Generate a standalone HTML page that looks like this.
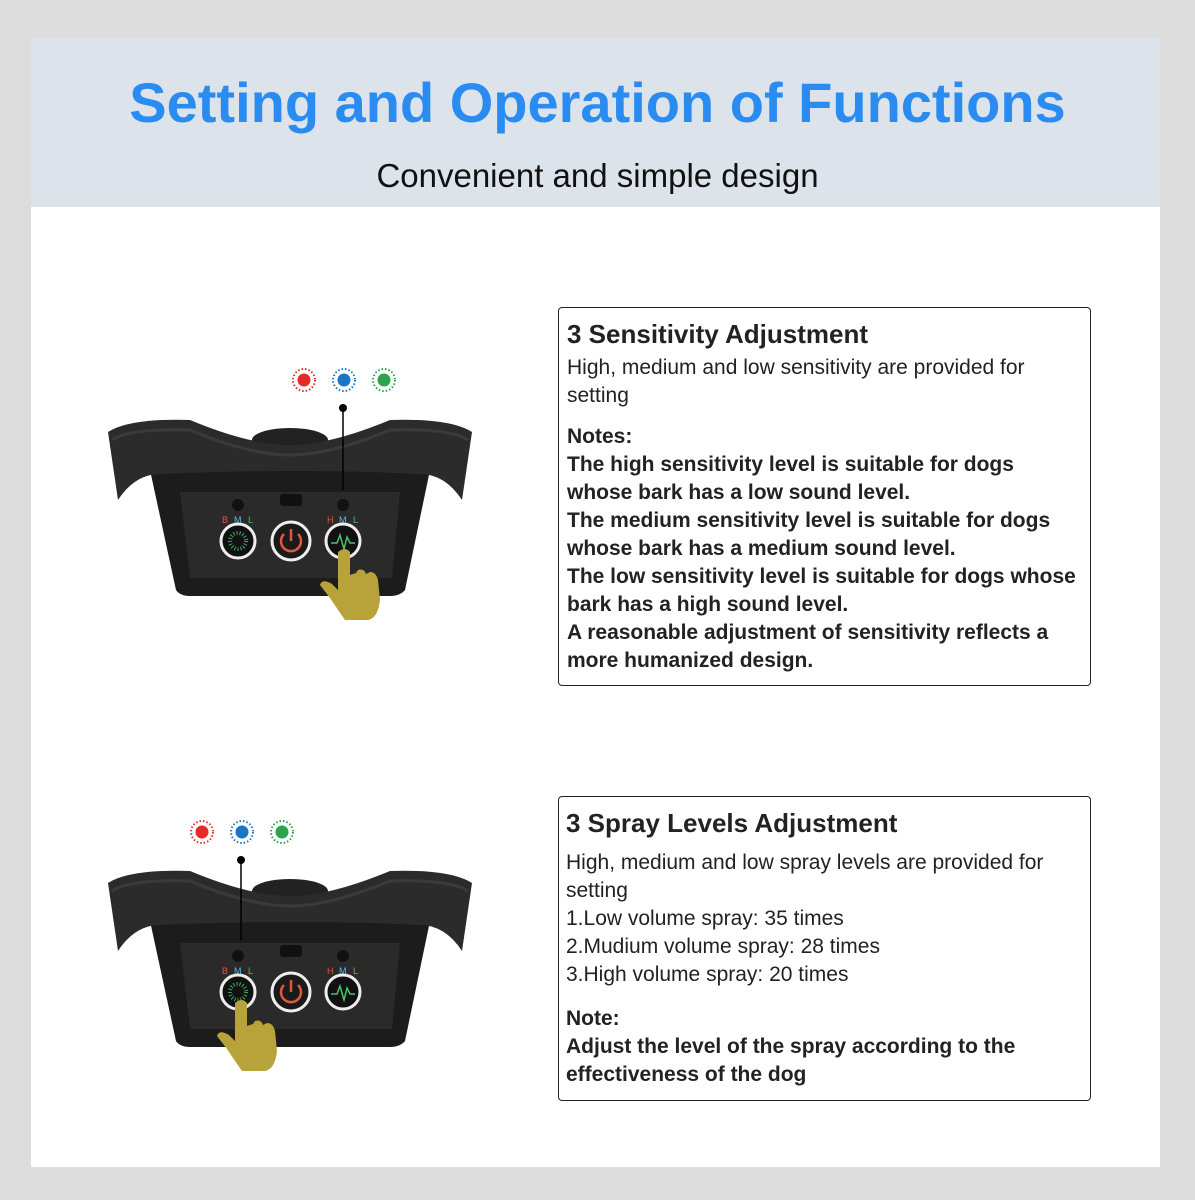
<!DOCTYPE html>
<html><head><meta charset="utf-8"><style>
body{margin:0;width:1195px;height:1200px;background:#dcdcdc;position:relative;font-family:"Liberation Sans",sans-serif;overflow:hidden}
#card{position:absolute;left:31px;top:38px;width:1129px;height:1129px;background:#fff}
#hdr{position:absolute;left:31px;top:38px;width:1129px;height:169px;background:#dde3ea}
h1{position:absolute;left:0;top:70px;width:1195px;text-align:center;margin:0;font-size:56px;color:#2a8cf0;font-weight:bold;letter-spacing:0}
.sub{position:absolute;left:0;top:157px;width:1195px;text-align:center;font-size:33px;color:#111}
.box{position:absolute;left:558px;width:533px;border:1.5px solid #222;border-radius:4px;box-sizing:border-box;padding:10px 0 0 8px;color:#222;font-size:21px;line-height:28px;white-space:nowrap}
.box h2{margin:0 0 4px 0;font-size:26px;line-height:32px}
.box b{display:block}
svg{position:absolute;left:0;top:0}
</style></head><body>
<div id="card"></div><div id="hdr"></div>
<h1>Setting and Operation of Functions</h1>
<div class="sub">Convenient and simple design</div>
<div class="box" style="top:307px;height:379px">
<h2>3 Sensitivity Adjustment</h2>
<div>High, medium and low sensitivity are provided for<br>setting</div>
<div style="height:13px"></div>
<b>Notes:<br>The high sensitivity level is suitable for dogs<br>whose bark has a low sound level.<br>The medium sensitivity level is suitable for dogs<br>whose bark has a medium sound level.<br>The low sensitivity level is suitable for dogs whose<br>bark has a high sound level.<br>A reasonable adjustment of sensitivity reflects a<br>more humanized design.</b>
</div>
<div class="box" style="top:796px;height:305px;padding-left:7px">
<h2 style="margin-bottom:10px">3 Spray Levels Adjustment</h2>
<div>High, medium and low spray levels are provided for<br>setting<br>1.Low volume spray: 35 times<br>2.Mudium volume spray: 28 times<br>3.High volume spray: 20 times</div>
<div style="height:16px"></div>
<b>Note:<br>Adjust the level of the spray according to the<br>effectiveness of the dog</b>
</div>
<svg width="1195" height="1200">
<defs>
<g id="dev">
<path d="M150 470 L430 470 L405 590 Q400 596 390 596 L190 596 Q180 596 176 590 Z" fill="#1c1c1c"/>
<path d="M180 492 L400 492 L392 578 L190 578 Z" fill="#2a2a2a"/>
<ellipse cx="290" cy="440" rx="38" ry="12" fill="#222"/>
<path d="M108 432 Q130 418 190 420 Q250 445 290 445 Q330 445 390 420 Q450 418 472 432 L462 500 Q445 474 420 474 Q300 468 160 474 Q135 474 118 500 Z" fill="#2b2b2b"/>
<path d="M112 440 Q130 428 190 430 Q250 455 290 455 Q330 455 390 430 Q450 428 468 440" fill="none" stroke="#3a3a3a" stroke-width="3"/>
<circle cx="238" cy="505" r="6" fill="#111"/><circle cx="343" cy="505" r="6" fill="#111"/>
<rect x="280" y="494" width="22" height="12" rx="3" fill="#111"/>
<text x="222" y="523" font-size="9" fill="#e0573f">B</text><text x="234" y="523" font-size="9" fill="#5ab8e0">M</text><text x="248" y="523" font-size="9" fill="#5bb85b">L</text>
<text x="327" y="523" font-size="9" fill="#e0573f">H</text><text x="339" y="523" font-size="9" fill="#5ab8e0">M</text><text x="353" y="523" font-size="9" fill="#5bb85b">L</text>
<circle cx="238" cy="541" r="17" fill="#111" stroke="#eee" stroke-width="3"/>
<circle cx="291" cy="541" r="19" fill="#1a1a1a" stroke="#eee" stroke-width="3"/>
<circle cx="343" cy="541" r="17" fill="#111" stroke="#eee" stroke-width="3"/>
<path d="M284 534 A10 10 0 1 0 298 534" fill="none" stroke="#e0573f" stroke-width="2.5"/><line x1="291" y1="529" x2="291" y2="541" stroke="#e0573f" stroke-width="2.5"/>
<path d="M331 543 L337 543 L340 535 L344 549 L347 537 L350 543 L355 543" fill="none" stroke="#4cc06a" stroke-width="1.5"/>
<circle cx="238" cy="541" r="8" fill="none" stroke="#3fa860" stroke-width="4" stroke-dasharray="1 2"/>
</g>
<g id="sun"><circle r="6" /><circle r="11" fill="none" stroke-width="2" stroke-dasharray="1.5 2"/></g>
</defs>
<use href="#dev"/>
<use href="#dev" transform="translate(0,451)"/>
<g fill="#e52a2a" stroke="#e52a2a"><use href="#sun" x="304" y="380"/><use href="#sun" x="202" y="832"/></g>
<g fill="#1a74c8" stroke="#1a74c8"><use href="#sun" x="344" y="380"/><use href="#sun" x="242" y="832"/></g>
<g fill="#2ba34a" stroke="#2ba34a"><use href="#sun" x="384" y="380"/><use href="#sun" x="282" y="832"/></g>
<circle cx="343" cy="408" r="4" fill="#000"/><line x1="343" y1="408" x2="343" y2="490" stroke="#000" stroke-width="1.5"/>
<circle cx="241" cy="860" r="4" fill="#000"/><line x1="241" y1="860" x2="241" y2="940" stroke="#000" stroke-width="1.5"/>
<g fill="#b8a33a">
<path d="M338 552 Q345 546 350 552 L350 575 L356 573 L358 570 Q364 568 366 574 L370 572 Q376 572 378 580 L380 600 Q378 618 368 620 L345 620 Q338 610 330 598 L320 585 Q322 578 332 584 L338 590 Z"/>
<path d="M235 1003 Q242 997 247 1003 L247 1026 L253 1024 L255 1021 Q261 1019 263 1025 L267 1023 Q273 1023 275 1031 L277 1051 Q275 1069 265 1071 L242 1071 Q235 1061 227 1049 L217 1036 Q219 1029 229 1035 L235 1041 Z"/>
</g>
</svg>
</body></html>
